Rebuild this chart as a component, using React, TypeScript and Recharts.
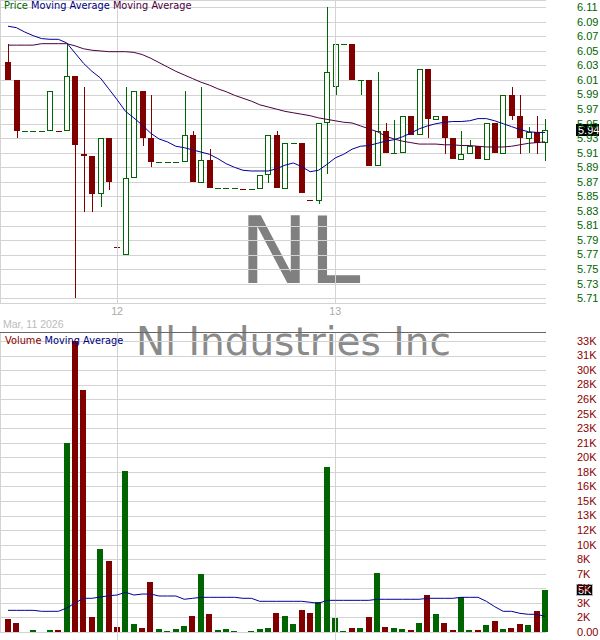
import { Bar, CartesianGrid, ComposedChart, Line, ReferenceLine, XAxis, YAxis } from 'recharts'

const GREEN = '#006400'
const RED = '#800000'
const BLUE = '#000099'
const PURPLE = '#4b0041'
const GRID = '#d3d3d3'
const SANS = "'Liberation Sans', Arial, sans-serif"
const DEJAVU = "'DejaVu Sans', Verdana, sans-serif"

// 15 minute bars, Mar 11 (afternoon) to Mar 13
const open = [
  6.035, 6.01, 5.94, 5.94, 5.94, 5.94, 5.94, 5.94, 6.015, 5.909, 5.906, 5.853, 5.93,
  5.78, 5.77, 5.875, 5.995, 5.931, 5.898, 5.898, 5.898, 5.898, 5.935, 5.869, 5.9, 5.861,
  5.861, 5.861, 5.86, 5.86, 5.86, 5.88, 5.935, 5.86, 5.924, 5.924, 5.845, 5.844, 5.951,
  6.0, 6.06, 6.06, 6.01, 6.01, 5.892, 5.94, 5.91, 5.91, 5.96, 5.935, 6.025, 5.955, 5.96,
  5.931, 5.9, 5.909, 5.92, 5.9, 5.951, 5.909, 5.99, 5.96, 5.929, 5.939, 5.924,
]
const high = [
  6.06, 6.01, 5.94, 5.94, 5.94, 5.995, 5.94, 6.06, 6.015, 6.0, 5.906, 5.93, 5.93,
  5.78, 6.0, 5.995, 5.995, 5.99, 5.898, 5.898, 5.898, 5.995, 5.94, 6.0, 5.915, 5.861,
  5.861, 5.861, 5.86, 5.86, 5.88, 5.935, 5.94, 5.924, 5.924, 5.924, 5.845, 5.951, 6.11,
  6.06, 6.06, 6.06, 6.01, 6.01, 6.021, 5.951, 5.955, 5.96, 5.96, 6.025, 6.025, 5.96, 5.96,
  5.931, 5.94, 5.927, 5.92, 5.951, 5.951, 5.99, 6.0, 5.99, 5.946, 5.96, 5.956,
]
const low = [
  6.01, 5.93, 5.94, 5.94, 5.94, 5.94, 5.94, 5.94, 5.71, 5.829, 5.829, 5.835, 5.859,
  5.78, 5.77, 5.875, 5.92, 5.89, 5.898, 5.898, 5.898, 5.898, 5.87, 5.869, 5.861, 5.861,
  5.861, 5.861, 5.86, 5.86, 5.86, 5.869, 5.861, 5.86, 5.924, 5.855, 5.845, 5.84, 5.881,
  5.99, 6.06, 6.01, 5.99, 5.892, 5.892, 5.91, 5.91, 5.91, 5.935, 5.935, 5.93, 5.955, 5.909,
  5.901, 5.9, 5.909, 5.901, 5.9, 5.91, 5.909, 5.955, 5.909, 5.91, 5.909, 5.899,
]
const close = [
  6.01, 5.94, 5.94, 5.94, 5.94, 5.995, 5.94, 6.015, 5.921, 5.906, 5.854, 5.93, 5.87,
  5.78, 5.875, 5.995, 5.931, 5.898, 5.898, 5.898, 5.898, 5.935, 5.87, 5.9, 5.861, 5.861,
  5.861, 5.861, 5.86, 5.86, 5.88, 5.935, 5.861, 5.924, 5.924, 5.855, 5.845, 5.951, 6.021,
  6.06, 6.06, 6.01, 6.01, 5.892, 5.94, 5.91, 5.91, 5.96, 5.935, 6.025, 5.956, 5.96, 5.931,
  5.901, 5.909, 5.92, 5.901, 5.951, 5.91, 5.99, 5.961, 5.93, 5.939, 5.924, 5.942,
]
const volume = [
  1470, 1020, 0, 230, 0, 230, 230, 21370, 32900, 27400, 1700, 9380, 8030,
  570, 18200, 900, 450, 5650, 340, 110, 340, 680, 1810, 6560, 2040, 230,
  340, 110, 0, 110, 340, 450, 2150, 1810, 900, 2490, 2150, 3390, 18650,
  1580, 110, 450, 450, 1700, 6670, 570, 450, 340, 230, 1020, 4180, 2040, 1020,
  230, 3960, 230, 230, 790, 1240, 340, 450, 900, 790, 2370, 4750,
]
const priceMaFast = [
  6.084, 6.082, 6.076, 6.071, 6.067, 6.066, 6.066, 6.061, 6.047, 6.033, 6.022, 6.013, 5.998,
  5.983, 5.967, 5.958, 5.948, 5.937, 5.929, 5.925, 5.919, 5.917, 5.914, 5.911, 5.908, 5.902,
  5.895, 5.89, 5.886, 5.885, 5.885, 5.885, 5.888, 5.893, 5.896, 5.891, 5.884, 5.886, 5.894,
  5.903, 5.908, 5.915, 5.919, 5.92, 5.923, 5.926, 5.928, 5.932, 5.937, 5.943, 5.947, 5.95, 5.952,
  5.953, 5.953, 5.954, 5.957, 5.957, 5.954, 5.95, 5.946, 5.942, 5.939, 5.938, 5.938,
]
const priceMaSlow = [
  6.058, 6.058, 6.058, 6.058, 6.06, 6.06, 6.06, 6.06, 6.057, 6.053, 6.051, 6.05, 6.049,
  6.049, 6.049, 6.048, 6.045, 6.04, 6.034, 6.028, 6.022, 6.017, 6.012, 6.007, 6.003, 5.998,
  5.994, 5.989, 5.985, 5.981, 5.976, 5.973, 5.97, 5.967, 5.965, 5.963, 5.961, 5.958, 5.956,
  5.954, 5.952, 5.951, 5.947, 5.943, 5.939, 5.933, 5.929, 5.926, 5.924, 5.922, 5.922, 5.922, 5.921,
  5.921, 5.92, 5.92, 5.919, 5.918, 5.918, 5.918, 5.919, 5.921, 5.923, 5.924, 5.925,
]
const volumeMa = [
  2450, 2450, 2450, 2450, 2340, 2340, 2340, 2710, 3280, 3810, 3810, 3955, 4100,
  4180, 4490, 4180, 4290, 4290, 4070, 4070, 4070, 3700, 3810, 3920, 3920, 3920,
  3920, 3920, 3810, 3810, 3470, 3470, 3470, 3470, 3470, 3470, 3360, 3240, 3580,
  3580, 3580, 3580, 3580, 3580, 3700, 3700, 3700, 3700, 3700, 3700, 3810, 3810, 3810,
  3810, 3920, 3920, 3920, 3470, 2860, 2340, 2340, 2110, 2000, 2000, 1775,
]

const priceTicks = [
  5.71, 5.73, 5.75, 5.77, 5.79, 5.81, 5.83, 5.85, 5.87, 5.89, 5.91, 5.93, 5.95, 5.97, 5.99,
  6.01, 6.03, 6.05, 6.07, 6.09, 6.11,
]
const volumeTicks = [
  0, 1645, 3290, 4935, 6580, 8225, 9870, 11515, 13160, 14805, 16450, 18095, 19740, 21385,
  23030, 24675, 26320, 27965, 29610, 31255, 32900,
]
const volumeTickLabels = [
  '0.00', '2K', '3K', '5K', '7K', '8K', '10K', '12K', '13K', '15K', '16K', '18K', '20K', '21K',
  '23K', '25K', '26K', '28K', '30K', '31K', '33K',
]
const dayTicks = [13, 39]
const dayLabels = ['12', '13']

const data = open.map((o, i) => {
  const c = close[i]
  const prev = i > 0 ? close[i - 1] : o
  return {
    idx: i,
    open: o,
    high: high[i],
    low: low[i],
    close: c,
    range: [low[i], high[i]],
    volume: volume[i],
    maFast: priceMaFast[i],
    maSlow: priceMaSlow[i],
    volMa: volumeMa[i],
    up: c > o || (c === o && c >= prev),
  }
})

const lastClose = close[close.length - 1]
const lastVolume = volume[volume.length - 1]

// axis ranges picked so the plot lines up with the 600x640 picture
const xDomain = [-0.953, 64.108]
const priceDomain = [5.70354, 6.12003]
const volumeDomain = [-904.5, 33917.5]

// snap grid lines to whole pixels so they stay crisp
function GridRow(props: any) {
  const y = Math.round(props.y1) + 0.5
  return <line x1={props.x1} x2={props.x2} y1={y} y2={y} stroke={GRID} />
}

function DayLine(props: any) {
  const x = Math.round(props.x1 ?? 0) + 0.5
  return <line x1={x} x2={x} y1={props.y1} y2={props.y2} stroke={GRID} />
}

function Candle(props: any) {
  const { x, y, width, height, payload } = props
  if (x == null || y == null || !payload) return null
  const top = Math.min(y, y + height)
  const bottom = Math.max(y, y + height)
  const { open, close, high, low, up } = payload
  const color = up ? GREEN : RED
  const span = high - low
  const toY = (v: number) => (span > 0 ? top + ((high - v) / span) * (bottom - top) : top)
  const left = Math.round(x + width / 2) - 3
  const wickX = left + 3.5
  const yH = Math.round(top)
  const yL = Math.round(bottom)
  const yO = Math.round(toY(open))
  const yC = Math.round(toY(close))
  const bTop = Math.min(yO, yC)
  const bBot = Math.max(yO, yC)

  let body
  if (bBot === bTop) {
    body = <line x1={left} x2={left + 6} y1={bTop + 0.5} y2={bTop + 0.5} stroke={color} />
  } else if (up) {
    body = (
      <rect x={left + 0.5} y={bTop + 0.5} width={5} height={Math.max(0, bBot - bTop - 1)} fill="#fff" stroke={color} />
    )
  } else {
    body = <rect x={left} y={bTop} width={6} height={bBot - bTop} fill={color} />
  }

  return (
    <g>
      {yL > yH && <line x1={wickX} x2={wickX} y1={yH} y2={yL} stroke={color} />}
      {body}
    </g>
  )
}

function VolumeBar(props: any) {
  const { x, y, width, height, payload } = props
  if (x == null || y == null || !payload || !payload.volume) return null
  const left = Math.round(x + width / 2) - 3
  const top = Math.round(Math.min(y, y + height))
  const bottom = Math.round(Math.max(y, y + height))
  return <rect x={left} y={top} width={6} height={Math.max(1, bottom - top)} fill={payload.up ? GREEN : RED} />
}

function DayTick(props: any) {
  const { x, payload } = props
  const label = dayLabels[dayTicks.indexOf(payload.value)]
  return (
    <text x={x} y={315} textAnchor="middle" fill="#aaaaaa" fontSize={10.7} fontFamily={SANS}>
      {label}
    </text>
  )
}

function PriceTick(props: any) {
  const { y, payload } = props
  return (
    <text x={577} y={y} dy="0.35em" fill={GREEN} fontSize={11} fontFamily={SANS}>
      {Number(payload.value).toFixed(2)}
    </text>
  )
}

function VolumeTick(props: any) {
  const { y, payload } = props
  const label = volumeTickLabels[volumeTicks.indexOf(payload.value)]
  return (
    <text x={577} y={y} dy="0.35em" fill="#8b0000" fontSize={11} fontFamily={SANS}>
      {label}
    </text>
  )
}

function PriceBox(props: any) {
  const vb = props.viewBox
  if (!vb) return null
  const cy = Math.round(vb.y)
  return (
    <g>
      <rect x={576} y={cy - 6} width={23} height={12} fill="#000" />
      <text x={578} y={cy} dy="0.35em" fill="#fff" fontSize={11} fontFamily={SANS}>
        {lastClose.toFixed(2)}
      </text>
    </g>
  )
}

function VolumeBox(props: any) {
  const vb = props.viewBox
  if (!vb) return null
  const cy = Math.round(vb.y)
  return (
    <g>
      <rect x={576.5} y={cy - 5.5} width={16} height={11} fill="#000" stroke="#bbbbbb" />
      <text x={578} y={cy} dy="0.35em" fill="#fff" fontSize={11} fontFamily={SANS}>
        {Math.round(lastVolume / 1000) + 'K'}
      </text>
    </g>
  )
}

export default function App() {
  return (
    <div
      style={{
        position: 'absolute',
        left: 0,
        top: 0,
        width: 600,
        height: 640,
        background: '#fff',
        overflow: 'hidden',
      }}
    >
      <div
        style={{
          position: 'absolute',
          left: 0,
          top: 205,
          width: 600,
          textAlign: 'center',
          fontFamily: DEJAVU,
          fontSize: 93,
          lineHeight: '93px',
          color: '#808080',
        }}
      >
        NL
      </div>
      <div
        style={{
          position: 'absolute',
          left: 0,
          top: 322,
          width: 587,
          textAlign: 'center',
          fontFamily: DEJAVU,
          fontSize: 39,
          lineHeight: '39px',
          color: '#8a8a8a',
          whiteSpace: 'nowrap',
        }}
      >
        Nl Industries Inc
      </div>
      <div
        style={{
          position: 'absolute',
          left: 3,
          top: 318,
          fontFamily: SANS,
          fontSize: 10.5,
          lineHeight: '12px',
          color: '#bbbbbb',
        }}
      >
        Mar, 11 2026
      </div>

      <div style={{ position: 'absolute', left: 0, top: 0 }}>
        <ComposedChart width={600} height={320} data={data} margin={{ top: 0, right: 0, bottom: 0, left: 0 }}>
          <CartesianGrid stroke={GRID} vertical={false} horizontal={GridRow} />
          <XAxis
            dataKey="idx"
            type="number"
            domain={xDomain}
            ticks={dayTicks}
            interval={0}
            axisLine={false}
            tickLine={false}
            height={17}
            tick={DayTick}
          />
          <YAxis
            orientation="right"
            width={54}
            domain={priceDomain}
            ticks={priceTicks}
            interval={0}
            axisLine={false}
            tickLine={false}
            tick={PriceTick}
          />
          {dayTicks.map((t) => (
            <ReferenceLine key={t} x={t} stroke={GRID} shape={DayLine} />
          ))}
          <Bar dataKey="range" barSize={7} shape={Candle} isAnimationActive={false} />
          <Line dataKey="maFast" type="linear" stroke={BLUE} strokeWidth={1} dot={false} activeDot={false} isAnimationActive={false} />
          <Line dataKey="maSlow" type="linear" stroke={PURPLE} strokeWidth={1} dot={false} activeDot={false} isAnimationActive={false} />
          <ReferenceLine y={lastClose} stroke="none" label={PriceBox} />
        </ComposedChart>
      </div>

      <div style={{ position: 'absolute', left: 0, top: 332 }}>
        <ComposedChart width={600} height={308} data={data} margin={{ top: 0, right: 0, bottom: 0, left: 0 }}>
          <CartesianGrid stroke={GRID} vertical={false} horizontal={GridRow} />
          <XAxis dataKey="idx" type="number" domain={xDomain} hide />
          <YAxis
            orientation="right"
            width={54}
            domain={volumeDomain}
            ticks={volumeTicks}
            interval={0}
            axisLine={false}
            tickLine={false}
            tick={VolumeTick}
          />
          {dayTicks.map((t) => (
            <ReferenceLine key={t} x={t} stroke={GRID} shape={DayLine} />
          ))}
          <Bar dataKey="volume" barSize={6} shape={VolumeBar} isAnimationActive={false} />
          <Line dataKey="volMa" type="linear" stroke={BLUE} strokeWidth={1} dot={false} activeDot={false} isAnimationActive={false} />
          <ReferenceLine y={lastVolume} stroke="none" label={VolumeBox} />
        </ComposedChart>
      </div>

      {/* panel borders */}
      <div style={{ position: 'absolute', left: 0, top: 0, width: 1, height: 303, background: GRID }} />
      <div style={{ position: 'absolute', left: 0, top: 333, width: 1, height: 300, background: GRID }} />
      <div style={{ position: 'absolute', left: 0, top: 332, width: 546, height: 1, background: '#666666' }} />

      <div
        style={{
          position: 'absolute',
          left: 4,
          top: 0,
          fontFamily: DEJAVU,
          fontSize: 9.8,
          lineHeight: '12px',
          whiteSpace: 'pre',
        }}
      >
        <span style={{ color: GREEN }}>Price </span>
        <span style={{ color: '#000080' }}>Moving Average </span>
        <span style={{ color: PURPLE }}>Moving Average</span>
      </div>
      <div
        style={{
          position: 'absolute',
          left: 5,
          top: 334.6,
          fontFamily: DEJAVU,
          fontSize: 9.8,
          lineHeight: '12px',
          whiteSpace: 'pre',
        }}
      >
        <span style={{ color: '#8b0000' }}>Volume </span>
        <span style={{ color: '#000080' }}>Moving Average</span>
      </div>
    </div>
  )
}
